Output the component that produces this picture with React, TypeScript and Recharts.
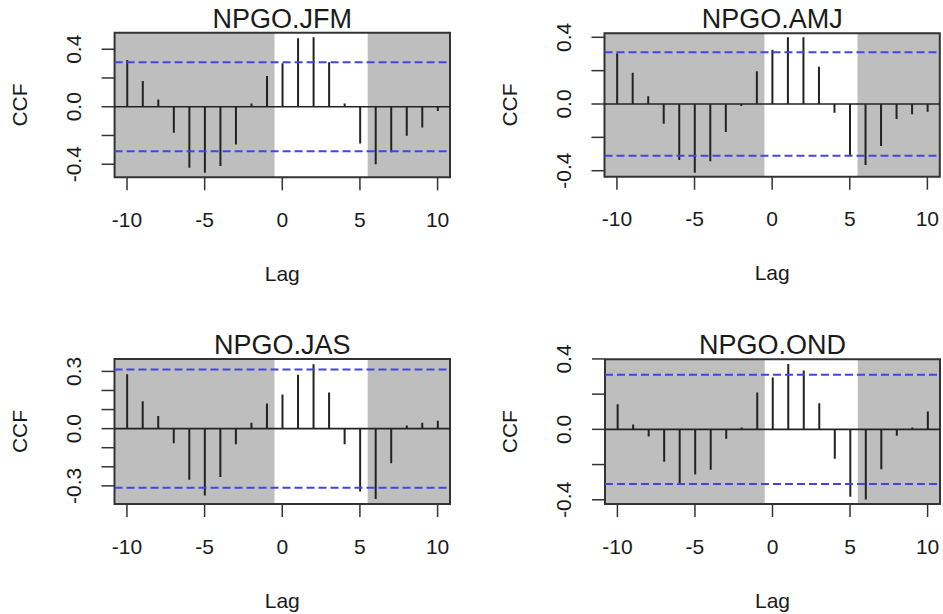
import React from 'react';
import { ComposedChart, Bar, XAxis, YAxis, ReferenceArea, ReferenceLine, Label } from 'recharts';

// ---------- data ----------
const lags = [-10, -9, -8, -7, -6, -5, -4, -3, -2, -1, 0, 1, 2, 3, 4, 5, 6, 7, 8, 9, 10];

const ccfJFM = [0.325, 0.179, 0.051, -0.181, -0.425, -0.459, -0.413, -0.262, 0.023, 0.213, 0.302, 0.476, 0.483, 0.309, 0.023, -0.255, -0.401, -0.316, -0.202, -0.144, -0.03];
const ccfAMJ = [0.304, 0.188, 0.046, -0.118, -0.336, -0.412, -0.344, -0.168, -0.012, 0.196, 0.324, 0.4, 0.4, 0.224, -0.052, -0.31, -0.366, -0.252, -0.09, -0.062, -0.046];
const ccfJAS = [0.285, 0.144, 0.066, -0.077, -0.268, -0.351, -0.254, -0.082, 0.031, 0.132, 0.179, 0.283, 0.337, 0.19, -0.082, -0.329, -0.369, -0.181, 0.016, 0.031, 0.042];
const ccfOND = [0.142, 0.028, -0.04, -0.184, -0.304, -0.256, -0.23, -0.053, 0.011, 0.209, 0.294, 0.372, 0.334, 0.148, -0.167, -0.383, -0.398, -0.226, -0.036, 0.011, 0.101];

const titles = ['NPGO.JFM', 'NPGO.AMJ', 'NPGO.JAS', 'NPGO.OND'];

const xTicks = [-10, -5, 0, 5, 10];
const xDomain = [-10.8, 10.8];
const shadeLeft = [-10.8, -0.5];
const shadeRight = [5.5, 10.8];
const ciBound = 0.31;

const yTicks04 = [-0.4, -0.2, 0, 0.2, 0.4];
const yLabels04 = [-0.4, 0, 0.4];
const yTicks03 = [-0.3, -0.2, -0.1, 0, 0.1, 0.2, 0.3];
const yLabels03 = [-0.3, 0, 0.3];

const xLabel = 'Lag';
const yLabel = 'CCF';

// ---------- styling ----------
const FONT = '"Liberation Sans", Arial, Helvetica, sans-serif';
const INK = '#1a1a1a';
const CHART_W = 471;
const CHART_H = 307;

const XTick = (props: any) => {
  const { x, y, payload } = props;
  return (
    <text x={x} y={y + 29} textAnchor="middle" dominantBaseline="central" fontSize={21} fontFamily={FONT} fill={INK}>
      {String(payload.value)}
    </text>
  );
};

const makeYTick = (labels: number[]) => (props: any) => {
  const { x, y, payload } = props;
  const v = payload.value as number;
  const show = labels.some((l) => Math.abs(l - v) < 1e-9);
  if (!show) return <g />;
  const cx = x - 28;
  return (
    <text
      x={cx}
      y={y}
      transform={`rotate(-90 ${cx} ${y})`}
      textAnchor="middle"
      dominantBaseline="central"
      fontSize={21}
      fontFamily={FONT}
      fill={INK}
    >
      {v.toFixed(1)}
    </text>
  );
};

const LagLabel = (props: any) => {
  const vb = props.viewBox || {};
  return (
    <text x={vb.x + vb.width / 2} y={vb.y + 96} textAnchor="middle" dominantBaseline="central" fontSize={21} fontFamily={FONT} fill={INK}>
      {xLabel}
    </text>
  );
};

const CcfLabel = (props: any) => {
  const vb = props.viewBox || {};
  const cx = vb.x + vb.width - 95;
  const cy = vb.y + vb.height / 2;
  return (
    <text x={cx} y={cy} transform={`rotate(-90 ${cx} ${cy})`} textAnchor="middle" dominantBaseline="central" fontSize={21} fontFamily={FONT} fill={INK}>
      {yLabel}
    </text>
  );
};

type PanelProps = {
  title: string;
  values: number[];
  yDomain: number[];
  yTicks: number[];
  yLabels: number[];
  left: number;
  top: number;
  margin: { top: number; right: number; bottom: number; left: number };
};

function Panel({ title, values, yDomain, yTicks, yLabels, left, top, margin }: PanelProps) {
  const data = lags.map((lag, i) => ({ lag, ccf: values[i] }));
  const YTick = makeYTick(yLabels);
  const plotLeft = margin.left + 100;
  const plotRight = CHART_W - margin.right;
  const titleX = (plotLeft + plotRight) / 2;
  const titleY = margin.top - 5;
  return (
    <div style={{ position: 'absolute', left, top, width: CHART_W, height: CHART_H }}>
      <ComposedChart width={CHART_W} height={CHART_H} data={data} margin={margin}>
        <XAxis
          type="number"
          dataKey="lag"
          domain={xDomain}
          ticks={xTicks}
          interval={0}
          allowDataOverflow
          axisLine={false}
          tickLine={{ stroke: '#333', strokeWidth: 1.5 }}
          tickSize={13}
          tickMargin={0}
          height={100}
          tick={XTick}
        >
          <Label content={LagLabel} />
        </XAxis>
        <YAxis
          type="number"
          domain={yDomain}
          ticks={yTicks}
          interval={0}
          allowDataOverflow
          axisLine={false}
          tickLine={{ stroke: '#333', strokeWidth: 1.5 }}
          tickSize={13}
          tickMargin={0}
          width={100}
          tick={YTick}
        >
          <Label content={CcfLabel} />
        </YAxis>
        <ReferenceArea x1={shadeLeft[0]} x2={shadeLeft[1]} y1={yDomain[0]} y2={yDomain[1]} fill="#bebebe" fillOpacity={1} stroke="none" />
        <ReferenceArea x1={shadeRight[0]} x2={shadeRight[1]} y1={yDomain[0]} y2={yDomain[1]} fill="#bebebe" fillOpacity={1} stroke="none" />
        <ReferenceLine y={ciBound} stroke="#4444e6" strokeWidth={2} strokeDasharray="8 4" />
        <ReferenceLine y={-ciBound} stroke="#4444e6" strokeWidth={2} strokeDasharray="8 4" />
        <ReferenceLine y={0} stroke="#222" strokeWidth={1.6} />
        <Bar dataKey="ccf" barSize={2} fill="#222" isAnimationActive={false} />
        <ReferenceArea x1={xDomain[0]} x2={xDomain[1]} y1={yDomain[0]} y2={yDomain[1]} ifOverflow="visible" fill="none" fillOpacity={0} stroke="#333" strokeWidth={2} />
      </ComposedChart>
      <svg width={CHART_W} height={CHART_H} style={{ position: 'absolute', left: 0, top: 0, pointerEvents: 'none' }}>
        <text x={titleX} y={titleY} textAnchor="middle" fontSize={27} fontFamily={FONT} fill={INK}>
          {title}
        </text>
      </svg>
    </div>
  );
}

export default function App() {
  return (
    <div style={{ position: 'absolute', left: 0, top: 0, width: 943, height: 614, background: '#fff', overflow: 'hidden' }}>
      <Panel
        title={titles[0]}
        values={ccfJFM}
        yDomain={[-0.491, 0.515]}
        yTicks={yTicks04}
        yLabels={yLabels04}
        left={0}
        top={0}
        margin={{ top: 32.7, right: 21, bottom: 29.7, left: 14.6 }}
      />
      <Panel
        title={titles[1]}
        values={ccfAMJ}
        yDomain={[-0.436, 0.424]}
        yTicks={yTicks04}
        yLabels={yLabels04}
        left={471}
        top={0}
        margin={{ top: 33.3, right: 2.2, bottom: 30.3, left: 33.5 }}
      />
      <Panel
        title={titles[2]}
        values={ccfJAS}
        yDomain={[-0.395, 0.365]}
        yTicks={yTicks03}
        yLabels={yLabels03}
        left={0}
        top={307}
        margin={{ top: 52, right: 21, bottom: 10, left: 14.5 }}
      />
      <Panel
        title={titles[3]}
        values={ccfOND}
        yDomain={[-0.424, 0.398]}
        yTicks={yTicks04}
        yLabels={yLabels04}
        left={471}
        top={307}
        margin={{ top: 52.3, right: 2, bottom: 10, left: 34 }}
      />
    </div>
  );
}
